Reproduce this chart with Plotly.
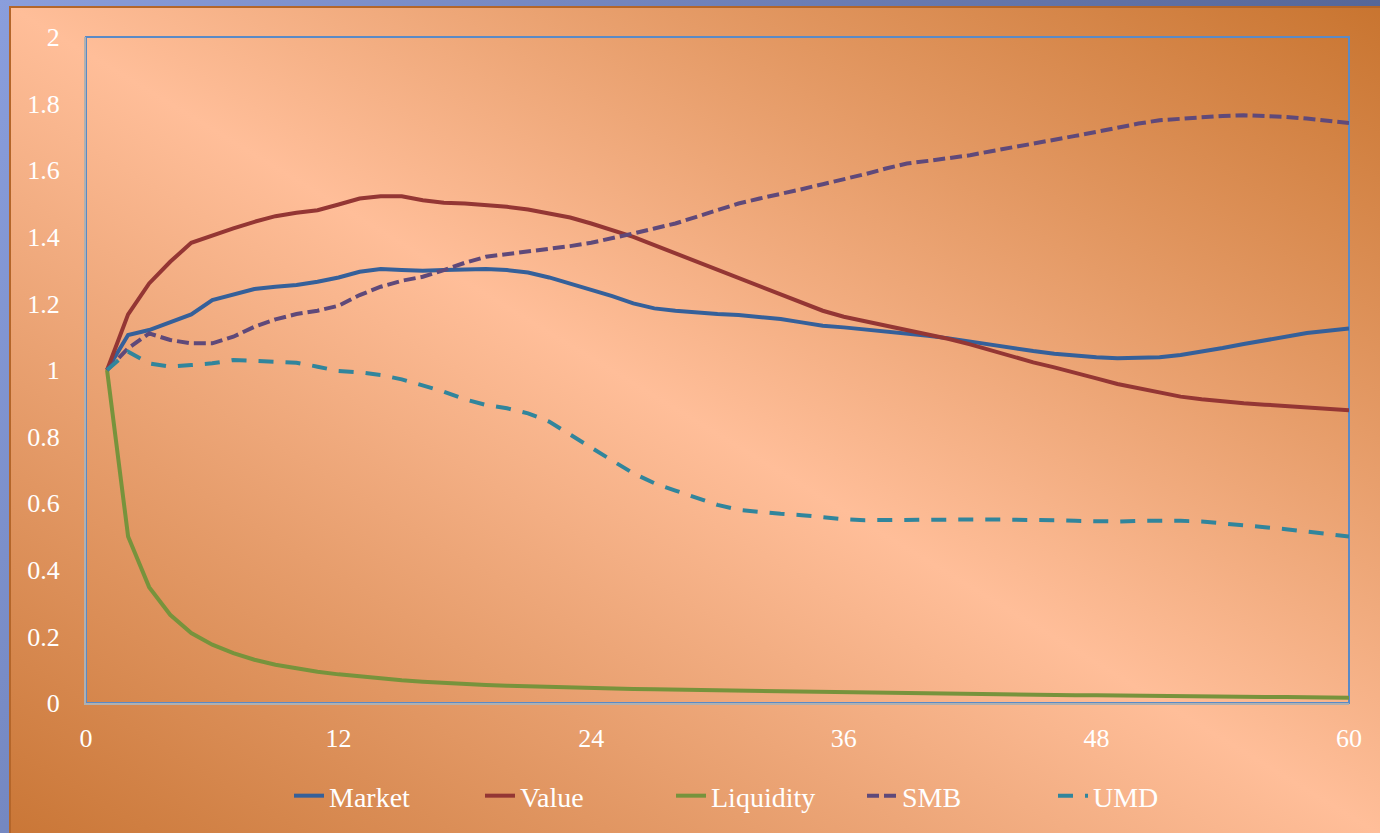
import base64
import plotly.graph_objects as go

months = list(range(1, 61))

market = [1.0, 1.105, 1.12, 1.145, 1.167, 1.21, 1.225, 1.243, 1.25, 1.255,
          1.265, 1.278, 1.295, 1.303, 1.3, 1.298, 1.3, 1.303, 1.303, 1.3,
          1.293, 1.278, 1.26, 1.242, 1.222, 1.2, 1.185, 1.178, 1.172, 1.168,
          1.165, 1.16, 1.153, 1.143, 1.133, 1.128, 1.122, 1.115, 1.108, 1.103,
          1.095, 1.085, 1.075, 1.066, 1.057, 1.049, 1.042, 1.038, 1.035, 1.035,
          1.038, 1.045, 1.054, 1.066, 1.078, 1.09, 1.102, 1.111, 1.118, 1.125]

value = [1.0, 1.167, 1.26, 1.325, 1.382, 1.405, 1.425, 1.445, 1.462, 1.472,
         1.48, 1.497, 1.515, 1.522, 1.522, 1.51, 1.502, 1.5, 1.495, 1.49,
         1.482, 1.47, 1.458, 1.44, 1.42, 1.4, 1.375, 1.35, 1.325, 1.3,
         1.275, 1.25, 1.225, 1.2, 1.178, 1.16, 1.147, 1.135, 1.122, 1.108,
         1.093, 1.077, 1.058, 1.04, 1.023, 1.008, 0.993, 0.975, 0.958, 0.945,
         0.932, 0.92, 0.912, 0.905, 0.9, 0.896, 0.892, 0.888, 0.884, 0.879]

liquidity = [1.0, 0.5, 0.348, 0.265, 0.21, 0.175, 0.15, 0.13, 0.115, 0.103,
             0.094, 0.086, 0.079, 0.073, 0.068, 0.064, 0.06, 0.057, 0.054, 0.052,
             0.05, 0.048, 0.046, 0.045, 0.043, 0.042, 0.041, 0.04, 0.039, 0.037,
             0.036, 0.035, 0.034, 0.033, 0.032, 0.031, 0.03, 0.029, 0.029, 0.028,
             0.027, 0.027, 0.026, 0.025, 0.025, 0.024, 0.023, 0.023, 0.022, 0.022,
             0.021, 0.02, 0.02, 0.019, 0.019, 0.018, 0.018, 0.017, 0.017, 0.016]

smb = [1.0, 1.065, 1.11, 1.09, 1.08, 1.08, 1.1, 1.13, 1.152, 1.168,
       1.178, 1.193, 1.225, 1.25, 1.268, 1.28, 1.3, 1.322, 1.34, 1.348,
       1.355, 1.363, 1.372, 1.382, 1.395, 1.41, 1.425, 1.44, 1.46, 1.48,
       1.5, 1.515, 1.528, 1.543, 1.558, 1.572, 1.588, 1.605, 1.62, 1.628,
       1.635, 1.645, 1.657, 1.668, 1.678, 1.69, 1.703, 1.715, 1.728, 1.74,
       1.75, 1.755, 1.76, 1.763, 1.765, 1.764, 1.76, 1.755, 1.748, 1.742]

umd = [1.0, 1.055, 1.02, 1.01, 1.015, 1.02, 1.03, 1.027, 1.025, 1.022,
       1.01, 0.997, 0.993, 0.985, 0.972, 0.955, 0.935, 0.912, 0.895, 0.885,
       0.87, 0.845, 0.805, 0.765, 0.728, 0.69, 0.66, 0.638, 0.615, 0.595,
       0.58, 0.573, 0.568, 0.564, 0.558, 0.552, 0.549, 0.55, 0.551, 0.552,
       0.552, 0.551, 0.551, 0.551, 0.55, 0.549, 0.547, 0.545, 0.545, 0.547,
       0.548, 0.547, 0.545, 0.54, 0.535, 0.528, 0.522, 0.515, 0.508, 0.5]

series_names = ["Market", "Value", "Liquidity", "SMB", "UMD"]
series_values = [market, value, liquidity, smb, umd]
series_colors = ["#35609A", "#943634", "#77933C", "#5F497A", "#31859C"]
series_dash = ["solid", "solid", "solid", "12px,5px", "15px,12px"]

x_ticks = [0, 12, 24, 36, 48, 60]
y_ticks = [0, 0.2, 0.4, 0.6, 0.8, 1, 1.2, 1.4, 1.6, 1.8, 2]

W, H = 1380, 833
ML, MR, MT, MB = 86, 31, 37, 130
PW, PH = W - ML - MR, H - MT - MB

svg = f'''<svg xmlns="http://www.w3.org/2000/svg" width="{W}" height="{H}" viewBox="0 0 {W} {H}" preserveAspectRatio="none">
<defs>
<linearGradient id="b" x1="0" y1="0" x2="1" y2="0.4"><stop offset="0" stop-color="#8A9EDC"/><stop offset="1" stop-color="#4D5E8E"/></linearGradient>
<linearGradient id="o" x1="1" y1="0" x2="0" y2="1"><stop offset="0" stop-color="#C8742F"/><stop offset="0.5" stop-color="#FFBE99"/><stop offset="1" stop-color="#C97636"/></linearGradient>
</defs>
<rect width="{W}" height="{H}" fill="url(#b)"/>
<rect x="10" y="7" width="{W}" height="{H}" fill="url(#o)" stroke="#B4662A" stroke-width="2"/>
</svg>'''
bg_uri = "data:image/svg+xml;base64," + base64.b64encode(svg.encode()).decode()

fig = go.Figure()
for name, vals, col, dash in zip(series_names, series_values, series_colors, series_dash):
    fig.add_trace(go.Scatter(
        x=months, y=vals, name=name, mode="lines",
        line=dict(color=col, width=4, dash=dash),
    ))

font_family = "Liberation Serif, Palatino Linotype, serif"

fig.update_layout(
    width=W, height=H,
    margin=dict(l=ML, r=MR, t=MT, b=MB, pad=0),
    paper_bgcolor="#7F93D2",
    plot_bgcolor="rgba(0,0,0,0)",
    font=dict(family=font_family, size=26, color="white"),
    images=[dict(
        source=bg_uri, xref="paper", yref="paper",
        x=-ML / PW, y=1 + MT / PH, sizex=W / PW, sizey=H / PH,
        xanchor="left", yanchor="top", sizing="stretch", layer="below",
    )],
    shapes=[dict(
        type="rect", xref="paper", yref="paper", x0=0, y0=0, x1=1, y1=1,
        line=dict(color="#5A8AC6", width=2), layer="below",
    )],
    xaxis=dict(
        range=[0, 60], tickvals=x_ticks, showgrid=False, zeroline=False,
        showline=True, linecolor="#B0B0B0", linewidth=2, ticks="",
        ticklabelstandoff=11, tickfont=dict(size=26, color="white"),
    ),
    yaxis=dict(
        range=[0, 2], tickvals=y_ticks, showgrid=False, zeroline=False,
        showline=True, linecolor="#B0B0B0", linewidth=2, ticks="",
        ticklabelstandoff=19, tickfont=dict(size=26, color="white"),
    ),
    legend=dict(
        orientation="h", x=(289 - ML) / PW, xanchor="left", y=-0.1396, yanchor="middle",
        bgcolor="rgba(0,0,0,0)", font=dict(size=28, color="white"),
        entrywidth=146, entrywidthmode="pixels",
    ),
    showlegend=True,
)

fig.write_html("out.html")
